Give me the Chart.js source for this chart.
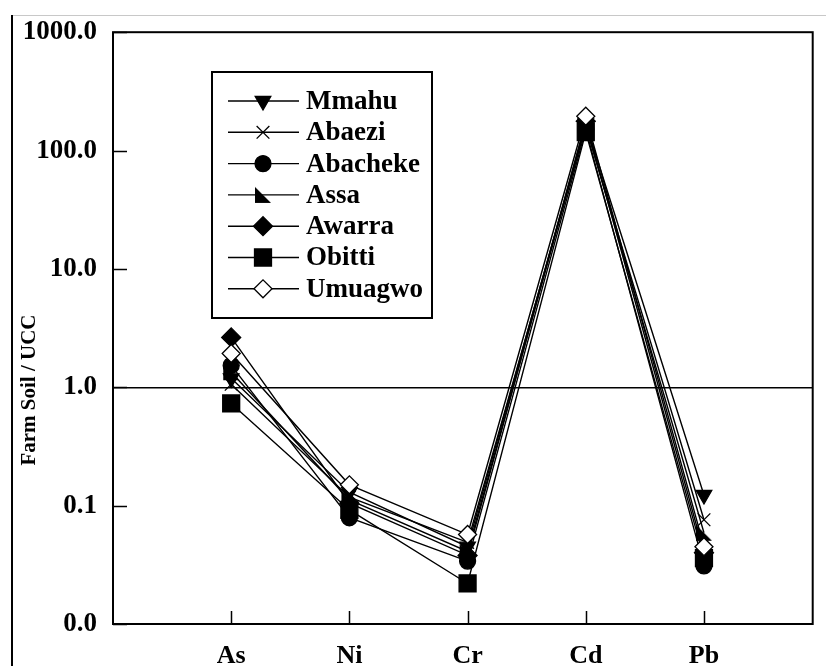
<!DOCTYPE html>
<html>
<head>
<meta charset="utf-8">
<script src="https://cdn.jsdelivr.net/npm/chart.js@4.4.1/dist/chart.umd.min.js"></script>
<style>
  html, body { margin: 0; padding: 0; background: #fff; }
  #wrap { width: 826px; height: 666px; }
</style>
</head>
<body>
<div id="wrap"><canvas id="chart" width="826" height="666"></canvas></div>
<script>
// elements on the x axis
const elements = ['As', 'Ni', 'Cr', 'Cd', 'Pb'];
// tick values on the log axis
const yTickValues = [0.01, 0.1, 1, 10, 100, 1000];

// Farm soil / UCC ratios
const siteNames = ['Mmahu', 'Abaezi', 'Abacheke', 'Assa', 'Awarra', 'Obitti', 'Umuagwo'];
const mmahu    = [1.19, 0.13,  0.045, 170, 0.123];
const abaezi   = [1.06, 0.118, 0.049, 160, 0.076];
const abacheke = [1.53, 0.079, 0.034, 151, 0.031];
const assa     = [1.34, 0.112, 0.041, 163, 0.059];
const awarra   = [2.64, 0.105, 0.038, 177, 0.040];
const obitti   = [0.73, 0.092, 0.022, 143, 0.036];
const umuagwo  = [1.93, 0.15,  0.057, 195, 0.045];
const siteValues = [mmahu, abaezi, abacheke, assa, awarra, obitti, umuagwo];

const FONT = '"Liberation Serif", "Times New Roman", serif';

// right-angle triangle marker for Assa
function makeCornerTriangle(size) {
  const c = document.createElement('canvas');
  c.width = size; c.height = size;
  const g = c.getContext('2d');
  g.fillStyle = '#000';
  g.beginPath();
  g.moveTo(1, 1);
  g.lineTo(1, size - 1);
  g.lineTo(size - 1, size - 1);
  g.closePath();
  g.fill();
  return c;
}

const markers = [
  { pointStyle: 'triangle', radius: 9, rotation: 180, fill: '#000' },
  { pointStyle: 'crossRot', radius: 9, rotation: 0, fill: '#000' },
  { pointStyle: 'circle', radius: 8, rotation: 0, fill: '#000' },
  { pointStyle: makeCornerTriangle(18), radius: 9, rotation: 0, fill: '#000' },
  { pointStyle: 'rectRot', radius: 9.5, rotation: 0, fill: '#000' },
  { pointStyle: 'rect', radius: 12, rotation: 0, fill: '#000' },
  { pointStyle: 'rectRot', radius: 9, rotation: 0, fill: '#fff' }
];

const datasets = siteNames.map((name, i) => ({
  label: name,
  data: siteValues[i].map((v, k) => ({ x: k + 1, y: v })),
  borderColor: '#000',
  borderWidth: 1.4,
  pointStyle: markers[i].pointStyle,
  pointRadius: markers[i].radius,
  pointRotation: markers[i].rotation,
  pointBackgroundColor: markers[i].fill,
  pointBorderColor: '#000',
  pointBorderWidth: 1.3,
  fill: false,
  tension: 0,
  order: siteNames.length - i
}));

// page border, frame, inward ticks, y title and legend box
const decorations = {
  id: 'decorations',
  beforeDraw(chart) {
    const ctx = chart.ctx;
    ctx.save();
    ctx.strokeStyle = '#c8c8c8';
    ctx.lineWidth = 1;
    ctx.beginPath();
    ctx.moveTo(12, 15.5);
    ctx.lineTo(826, 15.5);
    ctx.stroke();
    ctx.strokeStyle = '#000';
    ctx.lineWidth = 2;
    ctx.beginPath();
    ctx.moveTo(12, 15);
    ctx.lineTo(12, 666);
    ctx.stroke();
    ctx.restore();
  },
  afterDraw(chart) {
    const ctx = chart.ctx;
    const a = chart.chartArea;
    const xs = chart.scales.x, ys = chart.scales.y;
    ctx.save();
    ctx.strokeStyle = '#000';
    ctx.lineWidth = 2;
    ctx.strokeRect(a.left, a.top, a.right - a.left, a.bottom - a.top);

    ctx.lineWidth = 1.5;
    ctx.beginPath();
    yTickValues.forEach(v => {
      const py = Math.round(ys.getPixelForValue(v)) + 0.5;
      ctx.moveTo(a.left, py);
      ctx.lineTo(a.left + 14, py);
    });
    elements.forEach((e, k) => {
      const px = Math.round(xs.getPixelForValue(k + 1)) + 0.5;
      ctx.moveTo(px, a.bottom);
      ctx.lineTo(px, a.bottom - 13);
    });
    ctx.stroke();

    // y axis title
    ctx.save();
    ctx.translate(30, 390);
    ctx.rotate(-Math.PI / 2);
    ctx.fillStyle = '#000';
    ctx.font = 'bold 21px ' + FONT;
    ctx.textAlign = 'center';
    ctx.textBaseline = 'middle';
    ctx.fillText('Farm Soil / UCC', 0, 0);
    ctx.restore();

    // legend
    const box = { left: 212, top: 72, right: 432, bottom: 318 };
    ctx.fillStyle = '#fff';
    ctx.fillRect(box.left, box.top, box.right - box.left, box.bottom - box.top);
    ctx.lineWidth = 2;
    ctx.strokeRect(box.left, box.top, box.right - box.left, box.bottom - box.top);
    ctx.font = 'bold 27px ' + FONT;
    ctx.textAlign = 'left';
    ctx.textBaseline = 'middle';
    siteNames.forEach((name, i) => {
      const y = 101 + i * 31.3;
      ctx.strokeStyle = '#000';
      ctx.lineWidth = 1.4;
      ctx.beginPath();
      ctx.moveTo(228, y);
      ctx.lineTo(299, y);
      ctx.stroke();
      ctx.fillStyle = markers[i].fill;
      ctx.strokeStyle = '#000';
      ctx.lineWidth = 1.3;
      Chart.helpers.drawPoint(ctx, {
        pointStyle: markers[i].pointStyle,
        radius: markers[i].radius,
        rotation: markers[i].rotation,
        borderWidth: 1.3
      }, 263, y);
      ctx.fillStyle = '#000';
      ctx.fillText(name, 306, y + 1);
    });
    ctx.restore();
  }
};

new Chart(document.getElementById('chart'), {
  type: 'line',
  data: { datasets },
  options: {
    responsive: false,
    animation: false,
    layout: { padding: { left: 0, top: 29, right: 3, bottom: 0 } },
    plugins: {
      legend: { display: false },
      tooltip: { enabled: false }
    },
    scales: {
      x: {
        type: 'linear',
        min: 0,
        max: 5.92,
        afterBuildTicks: s => { s.ticks = elements.map((e, k) => ({ value: k + 1 })); },
        afterFit: s => { s.height = 42; },
        ticks: {
          callback: v => elements[v - 1],
          color: '#000',
          font: { family: FONT, size: 26, weight: 'bold' },
          padding: 9,
          maxRotation: 0,
          autoSkip: false
        },
        grid: { display: false },
        border: { display: false }
      },
      y: {
        type: 'logarithmic',
        min: 0.01,
        max: 1000,
        afterBuildTicks: s => { s.ticks = yTickValues.map(v => ({ value: v })); },
        afterFit: s => { s.width = 113; },
        ticks: {
          callback: v => Number(v).toFixed(1),
          color: '#000',
          font: { family: FONT, size: 27, weight: 'bold' },
          padding: 16,
          autoSkip: false
        },
        grid: {
          color: c => (c.tick && c.tick.value === 1 ? '#000' : 'rgba(0,0,0,0)'),
          lineWidth: 1.5,
          drawTicks: false
        },
        border: { display: false }
      }
    }
  },
  plugins: [decorations]
});
</script>
</body>
</html>
